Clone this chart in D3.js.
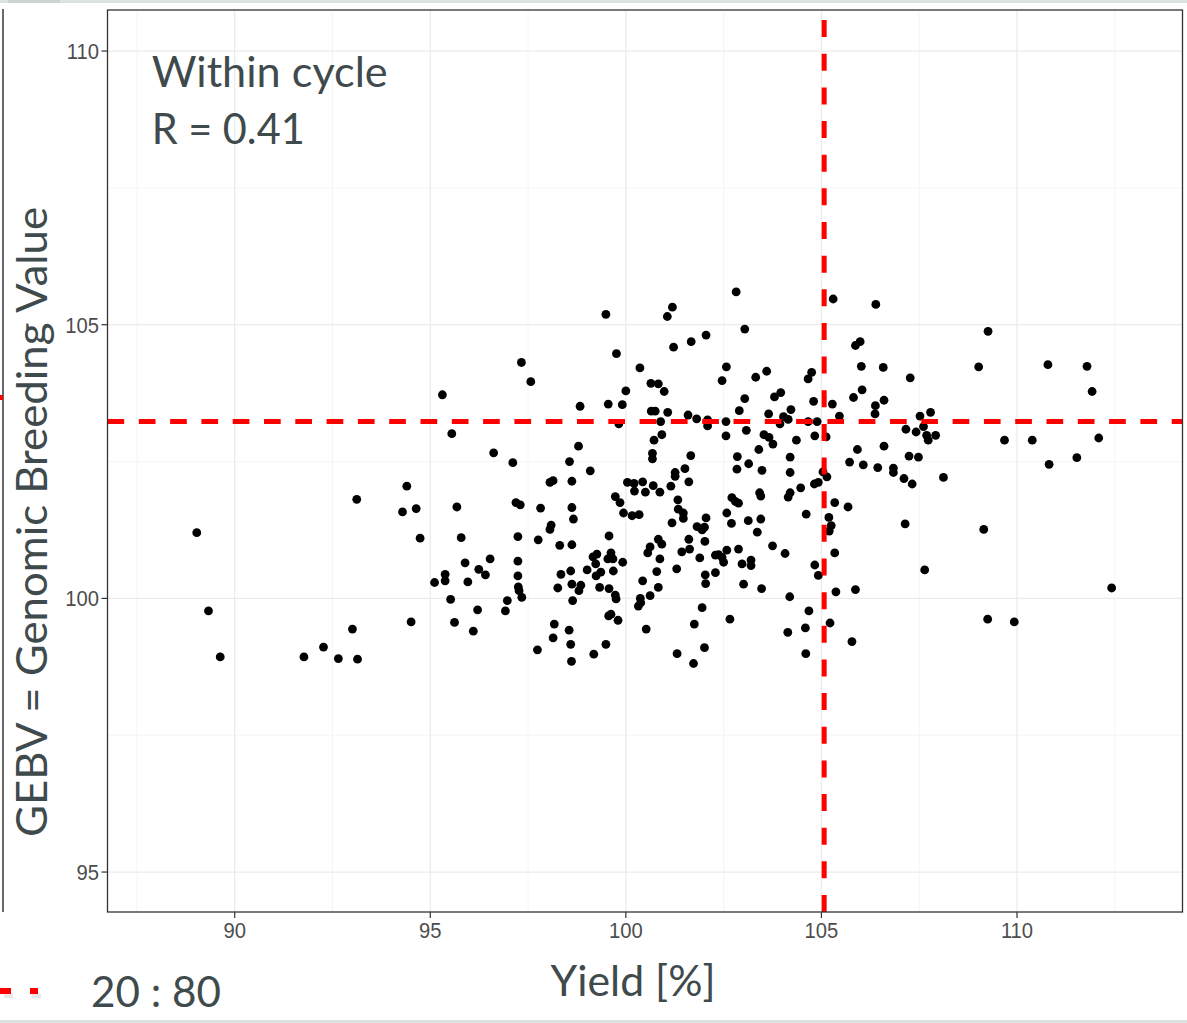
<!DOCTYPE html>
<html><head><meta charset="utf-8">
<script src="https://cdn.jsdelivr.net/npm/d3@7"></script>
<style>html,body{margin:0;padding:0;background:#fff;overflow:hidden}</style>
</head><body>
<svg id="c" width="1187" height="1023"></svg>
<script>
// ---- data ----
const yieldPct = [89.03,93.12,94.40,94.29,94.64,94.74,89.33,89.63,91.77,92.27,92.65,93.01,93.14,94.51,
95.31,95.55,96.62,97.11,97.33,97.57,98.83,98.79,98.56,99.09,99.49,99.76,100.36,100.00,99.55,99.91,99.82,100.64,100.83,100.65,100.75,100.89,100.72,100.92,100.68,100.68,
95.68,95.79,95.89,95.11,95.38,95.38,95.96,96.24,96.41,96.53,95.52,95.62,96.10,96.21,97.19,97.30,97.24,97.24,97.24,97.25,97.27,97.34,96.97,96.92,
98.06,98.14,98.62,97.82,97.76,98.09,98.06,98.62,98.66,98.31,98.62,98.59,98.34,98.26,98.62,98.85,98.80,98.64,99.01,99.16,99.26,99.23,99.24,99.36,99.33,
99.57,99.62,99.54,99.67,99.92,99.68,99.57,99.73,99.75,99.56,99.62,99.80,98.17,98.55,98.14,98.59,97.74,98.61,99.49,99.18,
99.73,99.85,99.94,100.16,100.34,100.04,100.21,100.22,100.43,100.50,100.70,100.87,100.83,100.92,100.62,100.56,100.87,100.79,100.43,100.83,100.62,100.37,100.32,100.38,100.52,
102.82,101.06,101.19,103.04,105.30,106.39,101.22,101.67,102.05,102.57,102.46,103.32,103.60,103.04,102.90,103.80,103.96,104.66,104.75,104.80,104.22,103.65,104.03,104.15,103.94,
102.56,102.09,102.09,101.81,101.59,101.07,100.98,102.56,103.08,103.53,103.66,103.76,103.40,104.36,104.83,104.89,104.66,105.28,105.46,105.12,
102.85,103.14,102.84,103.48,104.20,104.20,101.66,101.51,101.26,101.26,
105.87,105.99,106.02,106.58,106.04,105.82,106.60,106.38,106.37,105.92,106.60,105.72,106.07,106.44,106.84,106.84,
101.61,101.15,101.33,101.34,101.47,101.47,101.18,102.05,101.82,101.95,102.01,101.61,102.02,101.43,101.63,101.30,101.89,102.29,102.37,102.50,102.58,102.46,102.03,102.04,102.29,
102.71,102.80,102.88,102.58,102.70,103.13,103.45,103.36,103.42,103.45,102.88,102.97,103.20,103.20,103.01,103.47,103.75,104.07,104.20,104.15,104.47,104.61,104.82,104.92,
105.04,105.14,105.34,105.68,105.19,105.25,105.20,105.34,104.83,104.92,105.37,105.87,104.19,104.68,104.59,104.14,104.60,105.22,105.78,
101.95,101.75,102.66,102.01,101.31,101.73,
109.26,109.02,110.79,111.79,111.92,107.27,107.79,107.52,107.16,107.42,107.61,107.69,107.73,107.92,107.24,107.48,109.68,110.39,112.09,110.82,111.53,107.11,108.12,
107.32,107.14,109.15,107.64,112.42,109.25,109.93];

const gebv = [101.20,101.81,102.05,101.58,101.64,101.10,99.77,98.93,98.93,99.11,98.90,99.44,98.89,99.57,
103.72,103.01,102.66,102.48,104.31,103.96,103.51,102.78,102.50,102.33,105.19,104.47,104.21,103.79,103.55,103.54,103.19,103.93,103.92,103.42,103.42,103.23,102.89,102.99,102.65,102.55,
101.67,101.11,100.65,100.29,100.44,100.32,100.30,100.53,100.43,100.72,99.98,99.56,99.40,99.79,101.75,101.71,101.13,100.68,100.41,100.21,100.14,100.02,99.96,99.77,
102.12,102.15,102.14,101.65,101.07,101.34,101.26,101.66,101.45,100.97,100.98,100.50,100.44,100.19,100.26,100.24,100.14,99.96,100.52,100.76,100.81,100.63,100.41,100.48,100.20,
101.14,100.83,100.72,100.72,100.66,100.50,100.18,100.06,99.99,99.68,99.71,99.60,99.53,99.42,99.28,99.16,99.06,98.85,99.16,98.98,
101.86,101.75,101.56,101.51,101.53,102.12,102.10,101.96,102.13,101.94,102.06,101.94,101.08,100.99,100.94,100.83,100.72,100.49,100.32,100.20,100.05,100.00,99.86,99.92,99.44,
105.60,105.15,105.32,104.92,105.47,105.37,104.59,104.69,104.81,104.23,103.98,104.04,104.15,103.65,103.43,103.68,103.76,104.01,104.13,103.60,103.45,103.37,103.32,103.27,103.19,
103.23,103.26,103.15,103.28,103.35,103.40,103.78,102.97,103.07,102.99,102.94,102.82,102.72,102.89,102.97,103.23,103.23,103.55,103.33,102.95,
102.59,102.46,102.36,102.34,102.58,102.30,102.61,102.37,102.30,102.23,
104.62,104.69,104.24,104.22,103.81,103.67,103.62,103.52,103.37,102.72,102.78,102.49,102.44,102.39,102.38,102.30,
102.13,102.05,101.80,101.63,101.56,101.46,101.38,101.47,101.31,101.25,101.30,101.08,101.04,100.85,100.90,100.54,100.74,100.79,100.80,100.66,100.88,100.75,100.43,100.27,100.47,
101.84,101.77,101.74,101.56,101.37,101.42,101.45,101.21,101.93,101.87,100.90,100.63,100.70,100.60,100.26,100.18,100.96,100.82,101.93,101.85,102.02,101.54,102.09,102.12,
102.31,102.22,101.75,101.67,101.48,101.33,101.23,100.83,100.61,100.42,100.12,100.16,100.03,99.77,99.46,99.38,98.99,99.55,99.21,
99.83,99.53,99.62,99.10,98.99,98.81,
104.88,104.23,104.27,104.24,103.78,104.03,103.40,103.33,103.09,103.04,103.14,102.98,102.89,102.98,102.60,102.58,102.89,102.89,102.93,102.45,102.57,102.19,102.21,
102.09,101.36,101.26,100.52,100.19,99.62,99.57];

const xTicks = [90, 95, 100, 105, 110];
const xMinor = [87.5, 92.5, 97.5, 102.5, 107.5, 112.5];
const yTicks = [95, 100, 105, 110];
const yMinor = [97.5, 102.5, 107.5];
const cutYield = 105.07;   // vertical threshold
const cutGebv = 103.23;    // horizontal threshold
const titleLines = ["Within cycle", "R = 0.41"];
const xTitle = "Yield [%]";
const yTitle = "GEBV = Genomic Breeding Value";
const ratioLabel = "20 : 80";

// ---- layout ----
const svg = d3.select("#c");
const P = {l: 107.5, r: 1182.5, t: 10, b: 912};
const x = d3.scaleLinear().domain([86.748, 114.231]).range([P.l, P.r]);
const y = d3.scaleLinear().domain([94.27, 110.75]).range([P.b, P.t]);
const txt = "#3F4A4C";
const big = "Lato, 'Open Sans', sans-serif";

// slide decorations
svg.append("rect").attr("x",0).attr("y",0).attr("width",1187).attr("height",3).attr("fill","#dde2e1");
svg.append("rect").attr("x",8).attr("y",0).attr("width",52).attr("height",3).attr("fill","#cdd3d2");
svg.append("rect").attr("x",0).attr("y",1020).attr("width",1187).attr("height",3).attr("fill","#dde2e1");
svg.append("line").attr("x1",3).attr("x2",3).attr("y1",9).attr("y2",912).attr("stroke","#444").attr("stroke-width",1.6);
svg.append("rect").attr("x",0).attr("y",395).attr("width",3).attr("height",5).attr("fill","#f00");

// panel background + grid
svg.append("rect").attr("x",P.l).attr("y",P.t).attr("width",P.r-P.l).attr("height",P.b-P.t).attr("fill","#fff");
const g = svg.append("g");
g.selectAll(".xm").data(xMinor).join("line").attr("x1",d=>x(d)).attr("x2",d=>x(d)).attr("y1",P.t).attr("y2",P.b)
  .attr("stroke","#f2f2f2").attr("stroke-width",0.8);
g.selectAll(".ym").data(yMinor).join("line").attr("y1",d=>y(d)).attr("y2",d=>y(d)).attr("x1",P.l).attr("x2",P.r)
  .attr("stroke","#f2f2f2").attr("stroke-width",0.8);
g.selectAll(".xM").data(xTicks).join("line").attr("x1",d=>x(d)).attr("x2",d=>x(d)).attr("y1",P.t).attr("y2",P.b)
  .attr("stroke","#ebebeb").attr("stroke-width",1.3);
g.selectAll(".yM").data(yTicks).join("line").attr("y1",d=>y(d)).attr("y2",d=>y(d)).attr("x1",P.l).attr("x2",P.r)
  .attr("stroke","#ebebeb").attr("stroke-width",1.3);

// points
const pts = yieldPct.map((v,i)=>[v, gebv[i]]);
svg.append("g").selectAll("circle").data(pts).join("circle")
  .attr("cx",d=>x(d[0])).attr("cy",d=>y(d[1])).attr("r",4.4).attr("fill","#000");

// threshold lines
svg.append("line").attr("x1",P.l).attr("x2",P.r).attr("y1",y(cutGebv)).attr("y2",y(cutGebv))
  .attr("stroke","#ff0000").attr("stroke-width",5).attr("stroke-dasharray","16.7,14.6");
svg.append("line").attr("x1",x(cutYield)).attr("x2",x(cutYield)).attr("y1",P.b).attr("y2",P.t)
  .attr("stroke","#ff0000").attr("stroke-width",5).attr("stroke-dasharray","17,16.65");

// panel border
svg.append("rect").attr("x",P.l).attr("y",P.t).attr("width",P.r-P.l).attr("height",P.b-P.t)
  .attr("fill","none").attr("stroke","#333").attr("stroke-width",1.3);

// axes ticks + labels
const ax = svg.append("g");
ax.selectAll(".xt").data(xTicks).join("line").attr("x1",d=>x(d)).attr("x2",d=>x(d)).attr("y1",P.b).attr("y2",P.b+6)
  .attr("stroke","#333").attr("stroke-width",1.2);
ax.selectAll(".yt").data(yTicks).join("line").attr("y1",d=>y(d)).attr("y2",d=>y(d)).attr("x1",P.l-6).attr("x2",P.l)
  .attr("stroke","#333").attr("stroke-width",1.2);
ax.selectAll(".xl").data(xTicks).join("text")
  .attr("transform",d=>`translate(${x(d)},938) scale(0.92,1)`)
  .attr("text-anchor","middle").attr("font-family","'Liberation Sans', Arial, sans-serif").attr("font-size",22)
  .attr("fill","#4d4d4d").text(d=>d);
ax.selectAll(".yl").data(yTicks).join("text")
  .attr("transform",d=>`translate(99,${y(d)+8}) scale(0.92,1)`)
  .attr("text-anchor","end").attr("font-family","'Liberation Sans', Arial, sans-serif").attr("font-size",22)
  .attr("fill","#4d4d4d").text(d=>d);

// annotation
svg.append("text").attr("x",151.7).attr("y",87.3).attr("font-family",big).attr("font-size",43)
  .attr("fill",txt).attr("textLength",236).attr("lengthAdjust","spacingAndGlyphs").text(titleLines[0]);
svg.append("text").attr("x",151.7).attr("y",144).attr("font-family",big).attr("font-size",42)
  .attr("fill",txt).attr("textLength",153).attr("lengthAdjust","spacingAndGlyphs").text(titleLines[1]);

// axis titles
svg.append("text").attr("x",633).attr("y",996).attr("text-anchor","middle").attr("font-family",big).attr("font-size",43)
  .attr("fill",txt).attr("textLength",165).attr("lengthAdjust","spacingAndGlyphs").text(xTitle);
svg.append("text").attr("transform","translate(47,522) rotate(-90)").attr("text-anchor","middle")
  .attr("font-family",big).attr("font-size",42).attr("fill",txt)
  .attr("textLength",630).attr("lengthAdjust","spacingAndGlyphs").text(yTitle);

// bottom-left legend fragment
svg.append("rect").attr("x",4).attr("y",994).attr("width",9).attr("height",4).attr("fill","#ddd").attr("opacity",0.7);
svg.append("rect").attr("x",32).attr("y",994).attr("width",9).attr("height",4).attr("fill","#ddd").attr("opacity",0.7);
svg.append("rect").attr("x",0).attr("y",988).attr("width",11).attr("height",6).attr("fill","#f00");
svg.append("rect").attr("x",30).attr("y",988).attr("width",8).attr("height",6).attr("fill","#f00");
svg.append("text").attr("x",91).attr("y",1006.7).attr("font-family",big).attr("font-size",42)
  .attr("fill",txt).attr("textLength",130).attr("lengthAdjust","spacingAndGlyphs").text(ratioLabel);
</script>
</body></html>
